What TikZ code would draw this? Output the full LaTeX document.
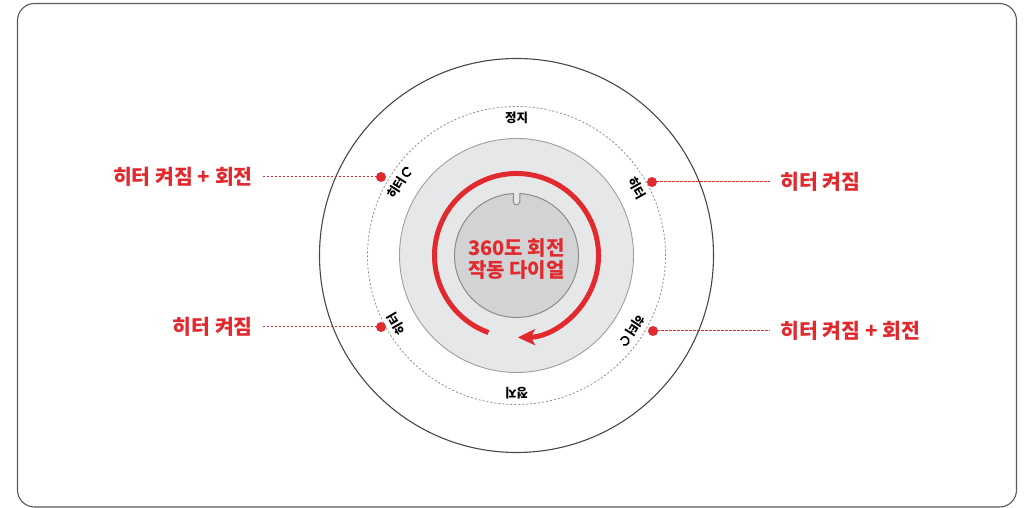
\documentclass[tikz,border=0pt]{standalone}
\usepackage{fontspec}
\setmainfont{Noto Sans CJK KR}
\usetikzlibrary{arrows.meta,calc}

\definecolor{dialred}{HTML}{E2292D}
\definecolor{framegray}{HTML}{5A5A5A}
\definecolor{ringgray}{HTML}{8C8C8C}
\definecolor{discfill}{HTML}{E6E7E8}
\definecolor{knobfill}{HTML}{D2D3D5}

% small open-circle mark used beside the ring labels
\newcommand{\rotmark}{\tikz[baseline=-0.6ex]\draw[line width=1.6pt] (10:4.2pt) arc[start angle=10, end angle=290, radius=4.2pt];}

\begin{document}
\begin{tikzpicture}[x=1pt, y=1pt,
        % Styles
        frame/.style={draw=framegray, line width=1.1pt, rounded corners=17pt},
        outerring/.style={draw=black!72, line width=1.1pt},
        dashring/.style={draw=ringgray, line width=0.8pt, dash pattern=on 2pt off 2pt},
        disc/.style={draw=black!38, line width=0.9pt, fill=discfill},
        knob/.style={draw=black!45, line width=1pt, fill=knobfill},
        redarc/.style={draw=dialred, line width=5pt, -{Stealth[length=17pt, width=16pt, inset=4pt]}},
        ringlabel/.style={font=\bfseries\fontsize{12.5}{13}\selectfont, inner sep=0pt},
        dialtext/.style={font=\bfseries\fontsize{20}{22}\selectfont, text=dialred, align=center},
        sidelabel/.style={font=\bfseries\fontsize{20.5}{22}\selectfont, text=dialred, inner xsep=10pt, inner ysep=2pt},
        reddot/.style={circle, fill=dialred, minimum size=10pt, inner sep=0pt},
        leader/.style={draw=dialred, line width=1pt, dash pattern=on 2.5pt off 1.5pt}
      ]
      \useasboundingbox (0,0) rectangle (1027,508);

      % Outer frame
      \draw[frame] (17.5,1) rectangle (1016.5,504.5);

      % Dial rings
      \coordinate (c) at (516.5,252.5);
      \draw[outerring] (c) circle[radius=197];
      \draw[dashring] (c) circle[radius=149];
      \draw[disc] (c) circle[radius=117];

      % Knob with notch on top
      \path[knob] ($(c)+(93:62)$) arc[start angle=93, end angle=447, radius=62]
        -- ++(0,-8) arc[start angle=0, end angle=-180, radius=3.25] -- cycle;

      % Rotation arrow
      \draw[redarc] ($(c)+(250:82)$) arc[start angle=250, end angle=-89, radius=82];

      \node[dialtext] (dial) at ($(c)+(0,-4)$) {360도 회전\\작동 다이얼};

      % Labels around the ring
      \foreach \ang/\txt [count=\i] in {90/정지, 270/정지, 29.4/히터, 209.9/히터,
          148/히터\,\rotmark, 327/히터\,\rotmark} {
        \node[ringlabel, rotate=\ang-90] (ring\i) at ($(c)+(\ang:138)$) {\txt};
      }

      % Red markers
      \node[reddot] (dotUL) at (381,331) {};
      \node[reddot] (dotUR) at (652,326) {};
      \node[reddot] (dotLL) at (381,181) {};
      \node[reddot] (dotLR) at (653,177) {};

      % Side labels
      \node[sidelabel, anchor=east] (lblUL) at (263,331) {히터 켜짐 + 회전};
      \node[sidelabel, anchor=west] (lblUR) at (770,326) {히터 켜짐};
      \node[sidelabel, anchor=east] (lblLL) at (263,181) {히터 켜짐};
      \node[sidelabel, anchor=west] (lblLR) at (770,177) {히터 켜짐 + 회전};

      \foreach \p/\a in {UL/east, UR/west, LL/east, LR/west} {
        \draw[leader] (dot\p.center) -- (lbl\p.\a);
      }

    \end{tikzpicture}
\end{document}
